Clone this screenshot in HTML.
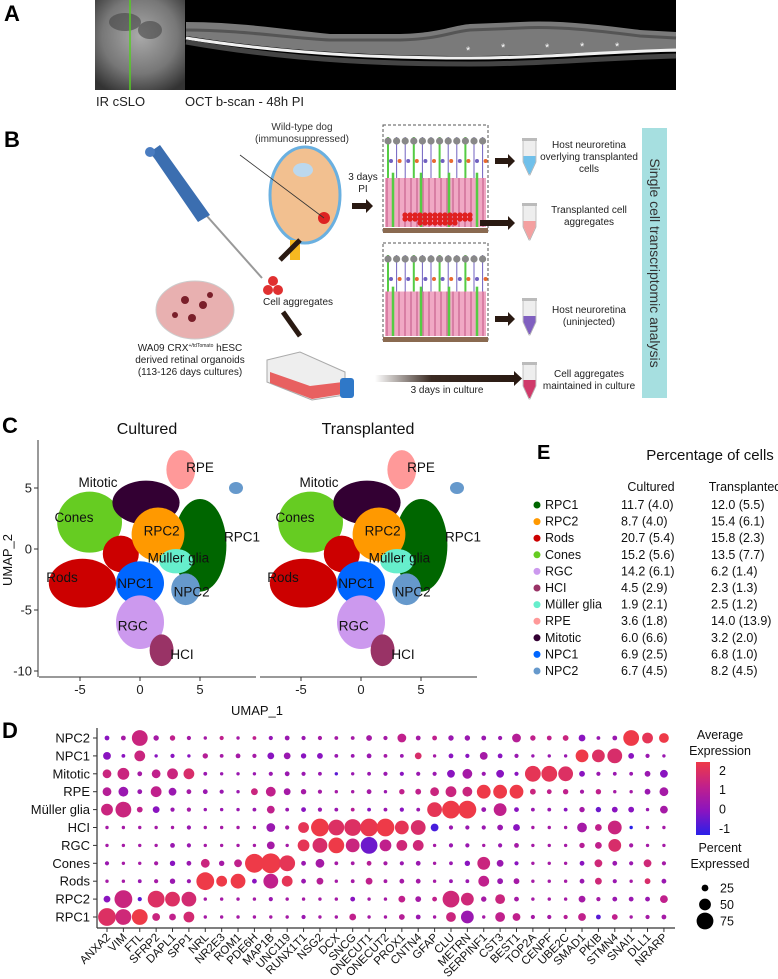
<!DOCTYPE html>
<html><head><meta charset="utf-8">
<style>
html,body{margin:0;padding:0;background:#fff;}
body{width:778px;height:979px;overflow:hidden;position:relative;font-family:"Liberation Sans",sans-serif;}
svg{position:absolute;left:0;top:0;}
</style></head>
<body>
<svg id="fig" width="778" height="979" viewBox="0 0 778 979" xmlns="http://www.w3.org/2000/svg" font-family="Liberation Sans, sans-serif">
<defs>
<radialGradient id="slo" cx="0.5" cy="0.4" r="0.7"><stop offset="0" stop-color="#aaa"/><stop offset="0.6" stop-color="#777"/><stop offset="1" stop-color="#333"/></radialGradient>
<linearGradient id="arrg" x1="0" x2="1"><stop offset="0" stop-color="#fff"/><stop offset="0.4" stop-color="#3a2a22"/><stop offset="1" stop-color="#2a1a12"/></linearGradient>
<linearGradient id="cbar" x1="0" y1="1" x2="0" y2="0"><stop offset="0" stop-color="#2a20e8"/><stop offset="0.33" stop-color="#8a14c0"/><stop offset="0.66" stop-color="#c0208c"/><stop offset="1" stop-color="#ee3a48"/></linearGradient>
</defs>

<!-- Panel A -->
<text x="4" y="21" font-size="22" font-weight="bold">A</text>
<rect x="95" y="0" width="90" height="90" fill="url(#slo)"/>
<ellipse cx="125" cy="22" rx="16" ry="9" fill="#444" opacity="0.6"/>
<ellipse cx="150" cy="30" rx="12" ry="9" fill="#444" opacity="0.6"/>
<line x1="130" y1="0" x2="130" y2="90" stroke="#55cc22" stroke-width="1.5"/>
<rect x="185" y="0" width="491" height="90" fill="#000"/>
<path d="M186,22 C240,22 290,30 330,34 L400,34 C440,33 450,26 470,24 L520,22 C560,20 600,25 640,30 L676,32 L676,52 C600,50 540,56 470,56 C400,56 300,54 186,36 Z" fill="#7a7a7a"/>
<path d="M186,30 C240,30 290,38 330,40 L400,40 C440,39 450,32 470,30 L520,28 C560,26 600,31 640,36 L676,38" stroke="#555" stroke-width="3" fill="none"/>
<path d="M186,38 C300,56 400,58 470,58 C540,58 600,52 676,50" stroke="#f0f0f0" stroke-width="3" fill="none"/>
<path d="M186,42 C300,62 400,64 470,64 C540,64 600,58 676,56" stroke="#444" stroke-width="5" fill="none"/>
<g fill="#fff" font-size="11"><text x="466" y="54">*</text><text x="501" y="51">*</text><text x="545" y="51">*</text><text x="580" y="50">*</text><text x="615" y="50">*</text></g>
<text x="96" y="106" font-size="13" fill="#222">IR cSLO</text>
<text x="185" y="106" font-size="13" fill="#222">OCT b-scan - 48h PI</text>

<!-- Panel B -->
<text x="4" y="147" font-size="22" font-weight="bold">B</text>
<text x="302" y="130" font-size="10" text-anchor="middle" fill="#333">Wild-type dog</text>
<text x="302" y="142" font-size="10" text-anchor="middle" fill="#333">(immunosuppressed)</text>
<g>
<line x1="150" y1="152" x2="262" y2="278" stroke="#999" stroke-width="2"/>
<path d="M150,152 L160,145 L210,215 L198,222 Z" fill="#3b6eb0"/>
<circle cx="150" cy="152" r="5" fill="#4a7cc0"/>
</g>
<g>
<ellipse cx="305" cy="195" rx="35" ry="48" fill="#f2c090" stroke="#6ab0e0" stroke-width="3"/>
<ellipse cx="303" cy="170" rx="10" ry="7" fill="#bcd8ee"/>
<rect x="290" y="240" width="10" height="20" fill="#f6b820"/>
<circle cx="324" cy="218" r="6" fill="#dd2222"/>
<line x1="240" y1="155" x2="324" y2="218" stroke="#333" stroke-width="0.8"/>
</g>
<text x="363" y="180" font-size="10" text-anchor="middle" fill="#222">3 days</text>
<text x="363" y="192" font-size="10" text-anchor="middle" fill="#222">PI</text>
<path d="M352,203 L366,203 L366,199 L373,206 L366,213 L366,209 L352,209 Z" fill="#2a1a12"/>
<g id="retina1"></g>
<g id="retina2"></g>
<g fill="#e03030">
<circle cx="273" cy="281" r="5"/><circle cx="268" cy="290" r="5"/><circle cx="278" cy="290" r="5"/>
</g>
<text x="298" y="305" font-size="10" text-anchor="middle" fill="#222">Cell aggregates</text>
<path d="M280,260 L300,240" stroke="#2a1a12" stroke-width="5"/>
<path d="M283,312 L300,336" stroke="#2a1a12" stroke-width="5"/>
<g>
<ellipse cx="195" cy="310" rx="39" ry="29" fill="#e8b0b0" stroke="#ccc"/>
<circle cx="185" cy="300" r="4" fill="#7a1f2a"/><circle cx="203" cy="305" r="4" fill="#7a1f2a"/><circle cx="192" cy="318" r="4" fill="#7a1f2a"/><circle cx="175" cy="315" r="3" fill="#7a1f2a"/><circle cx="210" cy="295" r="3" fill="#7a1f2a"/>
</g>
<text x="190" y="351" font-size="10" text-anchor="middle" fill="#222">WA09 CRX<tspan font-size="5" dy="-4">+/tdTomato</tspan><tspan dy="4"> hESC</tspan></text>
<text x="190" y="363" font-size="10" text-anchor="middle" fill="#222">derived retinal organoids</text>
<text x="190" y="375" font-size="10" text-anchor="middle" fill="#222">(113-126 days cultures)</text>
<g>
<path d="M267,360 L300,352 L345,372 L345,395 L312,400 L267,382 Z" fill="#eee" stroke="#aaa"/>
<path d="M270,372 L310,386 L343,382 L343,394 L312,399 L270,383 Z" fill="#e86060"/>
<rect x="340" y="378" width="14" height="20" rx="3" fill="#2f78c8"/>
</g>
<rect x="375" y="375" width="141" height="7" fill="url(#arrg)"/>
<path d="M514,371 L522,378.5 L514,386 Z" fill="#2a1a12"/>
<text x="447" y="393" font-size="10" text-anchor="middle" fill="#222">3 days in culture</text>
<g fill="#2a1a12">
<path d="M495,158 L508,158 L508,154 L515,161 L508,168 L508,164 L495,164 Z"/>
<path d="M480,220 L508,220 L508,216 L515,223 L508,230 L508,226 L480,226 Z"/>
<path d="M495,316 L508,316 L508,312 L515,319 L508,326 L508,322 L495,322 Z"/>
</g>
<g id="tubes"></g>
<g font-size="10" text-anchor="middle" fill="#222">
<text x="589" y="148">Host neuroretina</text>
<text x="589" y="160">overlying transplanted</text>
<text x="589" y="172">cells</text>
<text x="589" y="213">Transplanted cell</text>
<text x="589" y="225">aggregates</text>
<text x="589" y="313">Host neuroretina</text>
<text x="589" y="325">(uninjected)</text>
<text x="589" y="377">Cell aggregates</text>
<text x="589" y="389">maintained in culture</text>
</g>
<rect x="642" y="128" width="25" height="270" fill="#a6dfe0"/>
<text transform="translate(650,263) rotate(90)" font-size="14" text-anchor="middle" fill="#333">Single cell transcriptomic analysis</text>

<!-- Panel C -->
<text x="2" y="433" font-size="22" font-weight="bold">C</text>
<g id="umaps"></g>

<!-- Panel E -->
<text x="537" y="459" font-size="20" font-weight="bold">E</text>
<text x="710" y="460" font-size="15" text-anchor="middle" fill="#111">Percentage of cells</text>
<text x="651" y="491" font-size="12.5" text-anchor="middle" fill="#111">Cultured</text>
<text x="745" y="491" font-size="12.5" text-anchor="middle" fill="#111">Transplanted</text>
<g id="ptable"></g>

<!-- Panel D -->
<text x="2" y="738" font-size="22" font-weight="bold">D</text>
<g id="dotplot"></g>
<text x="720" y="739" font-size="12.5" text-anchor="middle" fill="#111">Average</text>
<text x="720" y="755" font-size="12.5" text-anchor="middle" fill="#111">Expression</text>
<rect x="696" y="762" width="14" height="73" fill="url(#cbar)"/>
<g id="cbarTicks"></g>
<text x="720" y="852" font-size="12.5" text-anchor="middle" fill="#111">Percent</text>
<text x="720" y="868" font-size="12.5" text-anchor="middle" fill="#111">Expressed</text>
<g id="sizeLegend"></g>
</svg>
<script>
const NS='http://www.w3.org/2000/svg';
function mk(tag,attrs,parent){const e=document.createElementNS(NS,tag);for(const k in attrs)e.setAttribute(k,attrs[k]);parent.appendChild(e);return e;}

/* ---------- Dot plot data ---------- */
const genes=['ANXA2','VIM','FTL','SFRP2','DAPL1','SPP1','NRL','NR2E3','ROM1','PDE6H','MAP1B','UNC119','RUNX1T1','NSG2','DCX','SNCG','ONECUT1','ONECUT2','PROX1','CNTN4','GFAP','CLU','METRN','SERPINF1','CST3','BEST1','TOP2A','CENPF','UBE2C','SMAD1','PKIB','STMN4','SNAI1','DLL1','NRARP'];
const cellTypes=['NPC2','NPC1','Mitotic','RPE','Müller glia','HCI','RGC','Cones','Rods','RPC2','RPC1'];
const pctNPC2=[15,15,70,18,18,12,8,12,8,10,12,15,12,12,10,10,20,12,35,15,15,18,18,15,12,35,18,15,20,25,10,15,70,45,40];
const expNPC2=[0,0.5,1.2,0.5,1,0.5,0.5,1,0.5,1,0.2,0.3,0.3,0.5,0.5,0.5,0.5,0.5,1,0.5,1,0.3,0.3,0.3,0.3,0.8,1,1,1.2,0,0.3,0.3,2,1.8,2];
const pctNPC1=[30,10,45,8,12,8,18,10,15,12,25,25,18,20,10,10,15,10,10,25,8,15,12,30,15,12,8,8,8,55,55,65,20,12,8];
const expNPC1=[0,0,1.2,0,0,0,0.8,0.5,0.5,0.5,0,0.3,0,0,0.3,0.3,0.3,0.5,0.3,1.5,0.5,0,0,0.5,0,0.3,0.3,0.3,0.3,2,1.6,1.5,0,0.3,0.3];
const pctMitotic=[35,50,15,35,45,45,10,8,8,8,12,15,12,10,8,8,10,12,12,12,12,30,40,12,30,12,70,70,65,20,12,10,10,20,30];
const expMitotic=[1.2,1.2,0.5,1,1.2,1.5,0.3,0.3,0.3,0.3,0.3,0.3,0.3,0.3,-0.5,0.3,0.3,0.3,0,0.3,0.3,0,0.5,0.3,0,0,1.8,1.8,1.6,0,0.3,0.3,0.3,0.3,0];
const pctRPE=[35,40,15,45,30,15,15,12,8,25,40,25,18,12,8,8,15,8,18,20,35,45,40,60,60,60,20,15,18,12,18,8,8,20,35];
const expRPE=[0.8,0.3,0.3,1,0.3,0.5,0.3,0.3,0.3,1.2,1,0.5,0.5,0.5,0.5,0.5,0.5,0.3,1,1,1.2,1.2,1.2,2,2,2,1.2,1,1,0.5,1,0.5,0.5,0.3,0.5];
const pctMuller=[50,70,20,25,12,12,8,8,8,10,30,10,15,12,10,10,10,10,12,10,65,80,80,15,55,15,10,10,10,18,18,20,20,8,30];
const expMuller=[1.2,1.2,1,0,0.3,0.5,0.3,0.3,0.3,0.3,1,0.3,0,0.3,0.3,0.8,0,0.3,0,0.3,1.8,2,2,0.3,1,0,0.3,0.3,0,0.5,-0.3,0,0,0.3,0.5];
const pctHCI=[8,8,8,8,8,12,8,8,8,8,35,12,45,80,70,75,80,80,60,65,30,12,12,12,20,25,8,8,8,40,25,60,8,8,8];
const expHCI=[0.5,0.5,0.5,0.5,0.5,0.3,0.5,0.5,0.5,0.5,0.3,0.5,1.8,2,1.6,1.6,1.9,2.1,1.8,1.5,-0.7,0.3,0.3,0.3,0.3,0,0.5,0.5,0.5,0.5,1,1.2,-1,0.5,0.5];
const pctRGC=[8,8,8,8,15,12,8,8,8,8,30,8,50,65,70,60,75,50,45,45,8,12,12,8,12,15,8,8,8,18,25,55,12,8,8];
const expRGC=[0.5,0.5,0.5,0.5,0.3,0.3,0.5,0.5,0.5,0.5,0.5,0.5,1.8,1.5,2,1.2,-0.3,1,1.3,1.3,0.5,0.3,0.3,0.5,0.3,0.5,0.5,0.5,0.5,0.8,1,1.5,0.5,0.5,0.5];
const pctCones=[12,8,8,12,18,15,35,18,30,85,90,70,15,35,10,10,15,12,12,15,8,10,18,55,25,12,8,8,8,15,30,15,12,30,12];
const expCones=[0.3,0.5,0.5,0.5,0,0.3,1.2,0.5,1,2,2,1.8,0.3,0.5,0.5,0.5,0.8,0.5,0.3,0.3,0.5,0.3,0,1.2,0.3,0,0.5,0.5,0.5,0,1.3,0.3,0.3,1.3,0.5];
const pctRods=[8,8,10,12,18,12,80,45,65,15,65,45,15,25,8,10,25,10,15,15,8,10,10,45,20,20,8,8,8,15,25,12,8,20,15];
const expRods=[0.5,0.5,0.3,0.5,0.3,0.3,2,2,2,0,1,1.8,0.3,0.8,0.5,0.5,1,0.5,0.5,0.5,0.5,0.3,0.3,1,0.3,0.5,0.5,0.5,0.5,0.3,1.3,0.3,0.5,1.5,0.3];
const pctRPC2=[25,80,12,75,65,65,8,8,8,8,12,8,8,8,8,15,8,8,25,20,15,75,55,18,40,15,8,8,8,25,12,15,15,15,30];
const expRPC2=[0,1.2,-0.5,1.6,1.6,1.4,0.5,0.5,0.5,0.5,0.3,0.5,0.5,0.5,0.5,0,0.5,0.5,1,0.5,1,1.3,1.3,0.5,1.2,0.5,0.5,0.5,0.5,0.5,0.5,0.3,0.3,0.3,1];
const pctRPC1=[80,70,70,30,25,45,8,8,8,8,8,8,12,8,8,25,8,8,20,15,8,40,55,8,40,30,12,12,12,30,15,20,8,12,15];
const expRPC1=[1.6,1.3,2,1.2,1,1.4,0.5,0.5,0.5,0.5,0.5,0.5,0.3,0.5,0.5,1,0.5,0.5,0.8,0.3,0.5,1.2,0.3,0.5,1,1,0.5,0.5,0.8,1,-0.5,1,0.5,0.5,0.5];
const pctRows=[pctNPC2,pctNPC1,pctMitotic,pctRPE,pctMuller,pctHCI,pctRGC,pctCones,pctRods,pctRPC2,pctRPC1];
const expRows=[expNPC2,expNPC1,expMitotic,expRPE,expMuller,expHCI,expRGC,expCones,expRods,expRPC2,expRPC1];
const colorTicks=[2,1,0,-1];
const sizeTicks=[25,50,75];

/* ---------- UMAP data (cluster extents in UMAP units) ---------- */
const clusterNames=['Cones','Rods','Rods','RPC1','Mitotic','RPC2','Müller glia','NPC1','NPC2','RGC','HCI','RPE'];
const clusterColors=['#66cc22','#cc0000','#cc0000','#006600','#330033','#ff9900','#66eecc','#0066ff','#6699cc','#cc99ee','#993366','#ff9999'];
const clusterCx=[-4.2,-4.8,-1.6,5,0.5,1.5,3,0,3.8,0,1.8,3.4];
const clusterCy=[2.2,-2.8,-0.4,0.3,3.8,1.2,-1,-2.8,-3.3,-6,-8.3,6.5];
const clusterRx=[2.7,2.8,1.5,2.2,2.8,2.2,1.4,2,1.2,2,1,1.2];
const clusterRy=[2.5,2,1.5,3.8,1.8,2.2,1,1.8,1.3,2.2,1.3,1.6];
const umapLabels=['RPE','Mitotic','Cones','RPC2','RPC1','Müller glia','Rods','NPC1','NPC2','RGC','HCI'];
const umapLabelX=[5,-3.5,-5.5,1.8,8.5,3.2,-6.5,-0.4,4.3,-0.6,3.5];
const umapLabelY=[6.3,5.1,2.2,1.1,0.6,-1.1,-2.7,-3.2,-3.9,-6.7,-9];
const umapXTicks=[-5,0,5];
const umapYTicks=[5,0,-5,-10];

/* ---------- Table E data ---------- */
const tblNames=['RPC1','RPC2','Rods','Cones','RGC','HCI','Müller glia','RPE','Mitotic','NPC1','NPC2'];
const tblColors=['#006600','#ff9900','#cc0000','#66cc22','#cc99ee','#993366','#66eecc','#ff9999','#330033','#0066ff','#6699cc'];
const tblCultured=['11.7 (4.0)','8.7 (4.0)','20.7 (5.4)','15.2 (5.6)','14.2 (6.1)','4.5 (2.9)','1.9 (2.1)','3.6 (1.8)','6.0 (6.6)','6.9 (2.5)','6.7 (4.5)'];
const tblTransplanted=['12.0 (5.5)','15.4 (6.1)','15.8 (2.3)','13.5 (7.7)','6.2 (1.4)','2.3 (1.3)','2.5 (1.2)','14.0 (13.9)','3.2 (2.0)','6.8 (1.0)','8.2 (4.5)'];

/* ---------- scales ---------- */
const dpX=i=>107+i*16.38;
const dpY=j=>738+j*17.9;
const dpR=p=>0.9+p*0.1;
function lerp(a,b,t){return Math.round(a+(b-a)*t);}
const stops=[[-1,[42,32,232]],[0,[138,20,192]],[1,[192,32,140]],[2,[238,58,72]]];
function expColor(v){
  v=Math.max(-1,Math.min(2.2,v));
  for(let k=0;k<stops.length-1;k++){
    const [a,ca]=stops[k],[b,cb]=stops[k+1];
    if(v<=b||k===stops.length-2){const t=Math.min(1,(v-a)/(b-a));return `rgb(${lerp(ca[0],cb[0],t)},${lerp(ca[1],cb[1],t)},${lerp(ca[2],cb[2],t)})`;}
  }
}
const cbY=v=>809-v*19.3;

/* ---------- draw dot plot ---------- */
const dp=document.getElementById('dotplot');
let ax=mk('line',{x1:97,y1:728,x2:97,y2:928,stroke:'#333','stroke-width':1.2},dp);


ax=mk('line',{x1:97,y1:928,x2:675,y2:928,stroke:'#333','stroke-width':1.2},dp);


cellTypes.forEach((ct,j)=>{
  const t=mk('text',{x:90,y:dpY(j)+4.5,'font-size':13,'text-anchor':'end',fill:'#111'},dp);
  t.textContent=ct;
  
  
  const tk=mk('line',{x1:93,y1:dpY(j),x2:97,y2:dpY(j),stroke:'#333'},dp);
  
  
  genes.forEach((g,i)=>{
    const c=mk('circle',{cx:dpX(i),cy:dpY(j),r:dpR(pctRows[j][i]),fill:expColor(expRows[j][i])},dp);
    
    
  });
});
genes.forEach((g,i)=>{
  const tk=mk('line',{x1:dpX(i),y1:928,x2:dpX(i),y2:932,stroke:'#333'},dp);
  
  
  const t=mk('text',{transform:`translate(${dpX(i)+4},${938}) rotate(-45)`,'font-size':11.5,'text-anchor':'end',fill:'#111'},dp);
  t.textContent=g;
  
  
});
const cbt=document.getElementById('cbarTicks');
colorTicks.forEach(v=>{
  const t=mk('text',{x:719,y:cbY(v)+4.5,'font-size':12.5,fill:'#111'},cbt);
  t.textContent=v;
  
  
});
const sl=document.getElementById('sizeLegend');
sizeTicks.forEach((p,k)=>{
  const y=888+k*16.5;
  const c=mk('circle',{cx:705,cy:y,r:dpR(p),fill:'#000'},sl);
  
  
  const t=mk('text',{x:720,y:y+4.5,'font-size':12.5,fill:'#111'},sl);
  t.textContent=p;
  
  
});

/* ---------- UMAPs ---------- */
const um=document.getElementById('umaps');
function drawUmap(x0,title,axisY){
  const ux=v=>x0+v*12, uy=v=>549-v*12.2;
  const g=mk('g',{},um);
  
  
  const tt=mk('text',{x:x0+7,y:434,'font-size':16,'text-anchor':'middle',fill:'#111'},g);
  tt.textContent=title;
  
  
  clusterNames.forEach((n,k)=>{
    const e=mk('ellipse',{cx:ux(clusterCx[k]),cy:uy(clusterCy[k]),rx:clusterRx[k]*12,ry:clusterRy[k]*12.2,fill:clusterColors[k]},g);
    
    
  });
  const isl=mk('ellipse',{cx:ux(8),cy:uy(5),rx:7,ry:6,fill:'#6699cc'},g);
  
  
  umapLabels.forEach((n,k)=>{
    const t=mk('text',{x:ux(umapLabelX[k]),y:uy(umapLabelY[k]),'font-size':13.5,'text-anchor':'middle',fill:'#111'},g);
    t.textContent=n;
    
    
  });
  const xa=mk('line',{x1:x0-101,y1:677,x2:x0+116,y2:677,stroke:'#333'},g);
  
  
  umapXTicks.forEach(v=>{
    const tk=mk('line',{x1:ux(v),y1:677,x2:ux(v),y2:681,stroke:'#333'},g);
    
    
    const t=mk('text',{x:ux(v),y:694,'font-size':13,'text-anchor':'middle',fill:'#222'},g);
    t.textContent=v;
    
    
  });
  if(axisY){
    const ya=mk('line',{x1:38,y1:440,x2:38,y2:677,stroke:'#333'},g);
    
    
    umapYTicks.forEach(v=>{
      const tk=mk('line',{x1:34,y1:uy(v),x2:38,y2:uy(v),stroke:'#333'},g);
      
      
      const t=mk('text',{x:32,y:uy(v)+4.5,'font-size':13,'text-anchor':'end',fill:'#222'},g);
      t.textContent=v;
      
      
    });
  }
}
drawUmap(140,'Cultured',true);
drawUmap(361,'Transplanted',false);
let lab=mk('text',{transform:'translate(12,560) rotate(-90)','font-size':13,'text-anchor':'middle',fill:'#111'},um);
lab.textContent='UMAP_2';


lab=mk('text',{x:257,y:715,'font-size':13,'text-anchor':'middle',fill:'#111'},um);
lab.textContent='UMAP_1';



/* ---------- Table ---------- */
const pt=document.getElementById('ptable');
tblNames.forEach((n,k)=>{
  const y=509+k*16.6;
  const c=mk('circle',{cx:537,cy:y-4,r:3.5,fill:tblColors[k]},pt);
  
  
  let t=mk('text',{x:545,y:y,'font-size':12.5,fill:'#111'},pt);
  t.textContent=n;
  
  
  t=mk('text',{x:621,y:y,'font-size':12.5,fill:'#111'},pt);
  t.textContent=tblCultured[k];
  
  
  t=mk('text',{x:711,y:y,'font-size':12.5,fill:'#111'},pt);
  t.textContent=tblTransplanted[k];
  
  
});

/* ---------- retina illustrations & tubes (decorative) ---------- */
function retina(g,y0,h,agg){
  mk('rect',{x:383,y:y0,width:105,height:h,fill:'none',stroke:'#555','stroke-dasharray':'3,2'},g);
  const top=y0+12;
  for(let i=0;i<12;i++){const x=388+i*8.6;
    mk('line',{x1:x,y1:top,x2:x,y2:y0+h-4,stroke:i%3==0?'#55cc44':'#7060c0','stroke-width':i%3==0?2:1},g);
    mk('circle',{cx:x,cy:top+4,r:3.6,fill:'#888'},g);
    mk('circle',{cx:x+3,cy:top+24,r:2,fill:i%2?'#e86a30':'#7060c0'},g);}
  mk('rect',{x:385,y:y0+h*0.5,width:101,height:h*0.5-4,fill:'#f0a8c4'},g);
  for(let i=0;i<17;i++) mk('line',{x1:387+i*6,y1:y0+h*0.5,x2:387+i*6,y2:y0+h-4,stroke:'#d0709a','stroke-width':1.5},g);
  for(let i=0;i<4;i++) mk('line',{x1:393+i*28,y1:y0+h*0.45,x2:393+i*28,y2:y0+h-4,stroke:'#55cc44','stroke-width':2.5},g);
  mk('rect',{x:383,y:y0+h-3,width:105,height:5,fill:'#8a6a50'},g);
  if(agg){for(let i=0;i<14;i++)for(let r=0;r<3;r++){if(r==0&&(i<3||i>10))continue;mk('circle',{cx:405+i*5,cy:y0+h-8-r*4,r:2.6,fill:'#e02020'},g);}}
}
retina(document.getElementById('retina1'),125,106,true);
retina(document.getElementById('retina2'),243,97,false);
const tb=document.getElementById('tubes');
[[138,'#70c0ea','tube-host-overlying'],[203,'#f4a0a0','tube-transplanted'],[298,'#8060c0','tube-host-uninjected'],[362,'#d03a6a','tube-cultured']].forEach(([y,c,n])=>{
  const g=mk('g',{},tb);
  
  
  mk('path',{d:`M523,${y+2} L536,${y+2} L536,${y+24} L530,${y+37} L529,${y+37} L523,${y+24} Z`,fill:'#eee',stroke:'#aaa','stroke-width':0.7},g);
  mk('path',{d:`M523.5,${y+18} L535.5,${y+18} L535.5,${y+24} L530,${y+36} L529,${y+36} L523.5,${y+24} Z`,fill:c},g);
  mk('rect',{x:522,y:y,width:15,height:3,fill:'#bbb'},g);
});
</script>
</body></html>
